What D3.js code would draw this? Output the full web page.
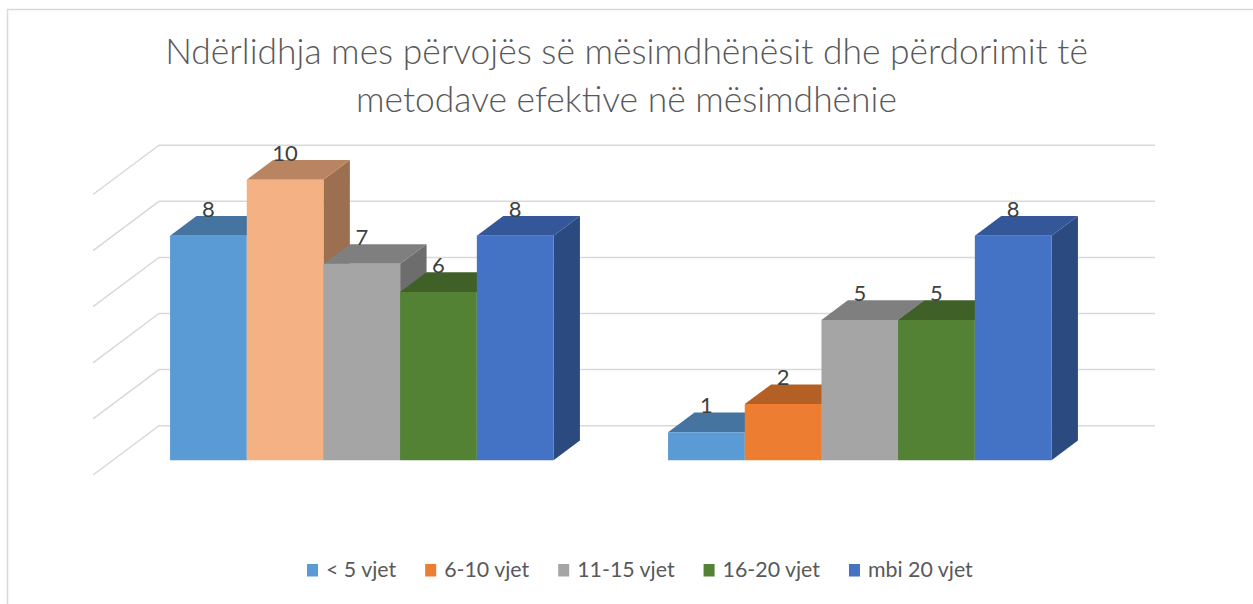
<!DOCTYPE html>
<html>
<head>
<meta charset="utf-8">
<script src="https://cdn.jsdelivr.net/npm/d3@7"></script>
<style>
  html, body { margin: 0; padding: 0; background: #fff; }
  svg { display: block; font-family: Lato, "Open Sans", sans-serif; }
</style>
</head>
<body>
<div id="chart"></div>
<script>
// chart data
const categories = ["Grupi A", "Grupi B"];
const seriesNames = ["< 5 vjet", "6-10 vjet", "11-15 vjet", "16-20 vjet", "mbi 20 vjet"];
const valuesA = [8, 10, 7, 6, 8];
const valuesB = [1, 2, 5, 5, 8];
const gridTicks = [0, 2, 4, 6, 8, 10];
const titleLines = [
    "Ndërlidhja mes përvojës së mësimdhënësit dhe përdorimit të",
    "metodave efektive në mësimdhënie"
];

// colours: front / top / side for each series
const frontColours = ["#5B9BD5", "#ED7D31", "#A5A5A5", "#548235", "#4472C4"];
const topColours   = ["#44749F", "#B45F24", "#7F7F7F", "#3F6128", "#34579A"];
const sideColours  = ["#3B668E", "#A0541F", "#6D6D6D", "#385724", "#2B4A7F"];
// the 6-10 bar of the first group is drawn in a lighter tone in the original
const overrideColours = {"0-1": {front: "#F4B183", top: "#B98461", side: "#9B6F4F"}};

const width = 1253;
const height = 604;

const svg = d3.select("#chart").append("svg")
    .attr("width", width)
    .attr("height", height);

svg.append("rect")
    .attr("x", 7.5).attr("y", 9.5)
    .attr("width", 1300).attr("height", 700)
    .attr("fill", "#fff")
    .attr("stroke", "#d9d9d9")
    .attr("stroke-width", 1.5);

// oblique 3d: front plane of the floor plus a depth vector going back/up-right
const depth = {dx: 66, dy: -49.3};
const barZ = [0.3, 0.7];

const y = d3.scaleLinear().domain([0, 10]).range([475, 194.5]);
const x0 = d3.scaleBand().domain(categories).range([93, 1089])
    .paddingInner(0.23).paddingOuter(0.115);
const x1 = d3.scaleBand().domain(seriesNames).range([0, x0.bandwidth()]);

function P(x, v, z) {
    return [x + z * depth.dx, y(v) + z * depth.dy];
}

// gridlines: back wall and left side wall
const grid = svg.append("g").attr("fill", "none")
    .attr("stroke", "#d9d9d9").attr("stroke-width", 1.5);
const [fx0, fx1] = x0.range();
gridTicks.forEach(t => {
    const bl = P(fx0, t, 1), br = P(fx1, t, 1), fl = P(fx0, t, 0);
    grid.append("path").attr("d", d3.line()([fl, bl, br]));
});

// bars, left to right so that neighbours cover hidden side faces
const rows = [valuesA, valuesB];
const bars = svg.append("g");
const labelData = [];
categories.forEach((cat, ci) => {
    seriesNames.forEach((s, si) => {
        const v = rows[ci][si];
        const xl = x0(cat) + x1(s);
        const xr = xl + x1.bandwidth();
        const c = overrideColours[ci + "-" + si] ||
            {front: frontColours[si], top: topColours[si], side: sideColours[si]};
        const [za, zb] = barZ;
        const side = [P(xr, 0, za), P(xr, 0, zb), P(xr, v, zb), P(xr, v, za)];
        const top = [P(xl, v, za), P(xr, v, za), P(xr, v, zb), P(xl, v, zb)];
        const front = [P(xl, 0, za), P(xr, 0, za), P(xr, v, za), P(xl, v, za)];
        const g = bars.append("g");
        g.append("path").attr("d", d3.line()(side) + "Z").attr("fill", c.side);
        g.append("path").attr("d", d3.line()(top) + "Z").attr("fill", c.top);
        g.append("path").attr("d", d3.line()(front) + "Z").attr("fill", c.front);
        labelData.push({x: (P(xl, v, za)[0] + P(xr, v, za)[0]) / 2, y: P(xl, v, zb)[1] + 1, v: v});
    });
});

svg.append("g").selectAll("text")
    .data(labelData)
    .join("text")
    .attr("x", d => d.x)
    .attr("y", d => d.y)
    .attr("text-anchor", "middle")
    .attr("font-size", 22)
    .attr("fill", "#404040")
    .text(d => d.v);

// title, sized so the first line spans like the original
const title = svg.append("g")
    .attr("fill", "#595959")
    .attr("font-weight", 300)
    .attr("text-anchor", "middle");
const titleTexts = title.selectAll("text")
    .data(titleLines)
    .join("text")
    .attr("x", 626.5)
    .attr("y", (d, i) => 63.5 + i * 48)
    .attr("font-size", 30)
    .text(d => d);
const w0 = titleTexts.node().getComputedTextLength();
titleTexts.attr("font-size", 30 * 923 / w0);

// legend: font sized so the labels take the same room as in the original
const legend = svg.append("g");
const legendTexts = seriesNames.map((s, i) => {
    const it = legend.append("g");
    it.append("rect").attr("x", 0).attr("y", -13).attr("width", 11).attr("height", 12.5)
        .attr("fill", frontColours[i]);
    const t = it.append("text").attr("x", 19).attr("y", 0)
        .attr("font-size", 19).attr("fill", "#595959").text(s);
    return {g: it, t: t};
});
const sumW = d3.sum(legendTexts, d => d.t.node().getComputedTextLength());
const legendSize = 19 * 455 / sumW;
let lx = 307;
legendTexts.forEach(d => {
    d.t.attr("font-size", legendSize);
    const tw = d.t.node().getComputedTextLength();
    d.g.attr("transform", `translate(${lx},577)`);
    lx += 19 + tw + 29;
});
</script>
</body>
</html>
